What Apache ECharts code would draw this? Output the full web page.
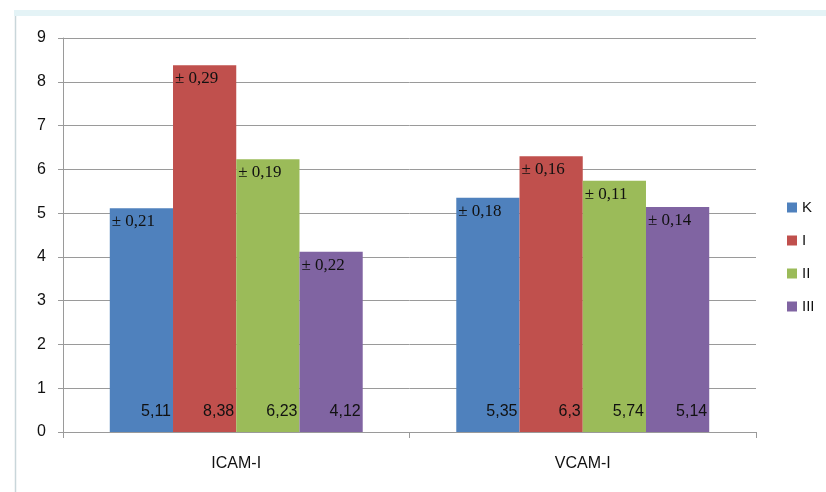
<!DOCTYPE html>
<html>
<head>
<meta charset="utf-8">
<script src="https://cdn.jsdelivr.net/npm/echarts@6/dist/echarts.min.js"></script>
<style>html,body{margin:0;padding:0;background:#fff}#c{width:826px;height:492px}</style>
</head>
<body>
<div id="c"></div>
<script>
const categories = ['ICAM-I', 'VCAM-I'];
const seriesNames = ['K', 'I', 'II', 'III'];
const seriesColors = ['#4f81bd', '#c0504d', '#9bbb59', '#8064a2'];
const valuesK = [5.11, 5.35];
const valuesI = [8.38, 6.3];
const valuesII = [6.23, 5.74];
const valuesIII = [4.12, 5.14];
const errK = [0.21, 0.18];
const errI = [0.29, 0.16];
const errII = [0.19, 0.11];
const errIII = [0.22, 0.14];
const yTicks = [0, 1, 2, 3, 4, 5, 6, 7, 8, 9];

const values = [valuesK, valuesI, valuesII, valuesIII];
const errs = [errK, errI, errII, errIII];
const fmt = v => String(v).replace('.', ',');
const sans = '"Liberation Sans", Arial, sans-serif';
const serif = '"Liberation Serif", "Times New Roman", serif';

const series = [];
values.forEach((vals, i) => {
  series.push({
    name: seriesNames[i], type: 'bar', xAxisIndex: 0,
    data: vals, barCategoryGap: '27%', barGap: '0%',
    itemStyle: { color: seriesColors[i] },
    label: {
      show: true, position: 'insideBottomRight', distance: 2, offset: [0, -10],
      formatter: p => fmt(p.value), color: '#111', fontFamily: sans, fontSize: 16
    },
    emphasis: { disabled: true }
  });
});
errs.forEach((e, i) => {
  series.push({
    type: 'bar', xAxisIndex: 1, silent: true,
    data: values[i].map((v, j) => ({ value: v, err: e[j] })),
    barCategoryGap: '27%', barGap: '0%',
    itemStyle: { color: 'rgba(0,0,0,0)' },
    label: {
      show: true, position: 'insideTopLeft', distance: 2, offset: [0, 3],
      formatter: p => '\u00b1 ' + fmt(errs[i][p.dataIndex]),
      color: '#111', fontFamily: serif, fontSize: 17
    },
    emphasis: { disabled: true }
  });
});

const chart = echarts.init(document.getElementById('c'));
chart.setOption({
  animation: false,
  backgroundColor: '#fff',
  graphic: [
    { type: 'rect', shape: { x: 15.5, y: 12.5, width: 830, height: 500, r: 4 },
      style: { fill: 'none', stroke: '#c9d6da', lineWidth: 1.5 }, z: -1 },
    { type: 'rect', shape: { x: 14, y: 10, width: 812, height: 6 },
      style: { fill: '#e4f3f6' }, z: -1 }
  ],
  legend: {
    orient: 'vertical', left: 782, top: 195,
    itemWidth: 10, itemHeight: 10, itemGap: 18,
    icon: 'rect',
    data: seriesNames,
    textStyle: { fontFamily: sans, fontSize: 15, color: '#111' }
  },
  grid: { left: 63, right: 70, top: 38, bottom: 60 },
  xAxis: [
    {
      type: 'category', data: categories,
      axisLine: { lineStyle: { color: '#9a9a9a' } },
      axisTick: { show: true, length: 6, lineStyle: { color: '#9a9a9a' } },
      axisLabel: { fontFamily: sans, fontSize: 16, color: '#111', margin: 24 }
    },
    { type: 'category', data: categories, show: false }
  ],
  yAxis: {
    type: 'value', min: 0, max: 9, interval: 1,
    axisLine: { show: true, lineStyle: { color: '#9a9a9a' } },
    axisTick: { show: true, length: 5, inside: false, lineStyle: { color: '#9a9a9a' } },
    axisLabel: { fontFamily: sans, fontSize: 16, color: '#111', margin: 17,
      formatter: v => yTicks.includes(v) ? String(v) : '' },
    splitLine: { lineStyle: { color: '#9a9a9a' } }
  },
  series: series
});
</script>
</body>
</html>
